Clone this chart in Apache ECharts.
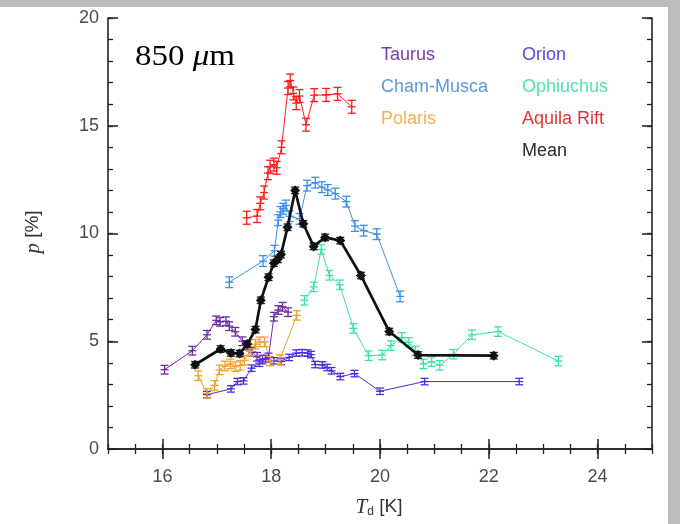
<!DOCTYPE html>
<html><head><meta charset="utf-8">
<script src="https://cdn.jsdelivr.net/npm/echarts@6/dist/echarts.min.js"></script>
<style>html,body{margin:0;padding:0;background:#fff}#c{width:680px;height:524px}</style>
</head><body><div id="c"></div>
<script>
// ---- data ----
const xTickLabels = [16, 18, 20, 22, 24];
const yTickLabels = [0, 5, 10, 15, 20];

const taurusX = [16.04, 16.55, 16.82, 16.99, 17.06, 17.17, 17.23, 17.34, 17.47, 17.55, 17.65, 17.74, 17.84, 17.95, 18.05, 18.13, 18.21, 18.31];
const taurusY = [3.68, 4.56, 5.30, 5.97, 5.90, 5.93, 5.70, 5.44, 5.00, 4.80, 4.50, 4.28, 4.15, 4.25, 6.14, 6.45, 6.60, 6.35];

const orionX = [16.82, 17.26, 17.38, 17.49, 17.64, 17.78, 17.90, 18.05, 18.18, 18.33, 18.46, 18.57, 18.67, 18.73, 18.81, 18.94, 19.03, 19.11, 19.27, 19.53, 20.00, 20.82, 22.56];
const orionY = [2.52, 2.79, 3.13, 3.16, 3.75, 3.98, 4.19, 4.09, 4.06, 4.25, 4.45, 4.47, 4.45, 4.38, 3.92, 3.90, 3.78, 3.63, 3.36, 3.50, 2.68, 3.13, 3.13];

const polarisX = [16.66, 16.82, 16.96, 17.05, 17.15, 17.25, 17.34, 17.43, 17.51, 17.61, 17.71, 17.79, 17.88, 17.98, 18.16, 18.47];
const polarisY = [3.40, 2.58, 2.95, 3.67, 3.85, 3.95, 3.82, 3.88, 4.12, 4.53, 4.86, 4.97, 4.97, 4.08, 4.15, 6.20];

const chamX = [17.23, 17.85, 18.06, 18.13, 18.17, 18.22, 18.27, 18.34, 18.52, 18.66, 18.81, 18.93, 19.04, 19.18, 19.38, 19.54, 19.70, 19.94, 20.37];
const chamY = [7.74, 8.72, 9.20, 10.62, 11.00, 11.15, 11.30, 10.80, 10.68, 12.22, 12.36, 12.15, 12.02, 11.85, 11.48, 10.35, 10.13, 9.97, 7.08];

const ophX = [18.61, 18.78, 18.92, 19.07, 19.26, 19.51, 19.79, 20.04, 20.20, 20.40, 20.53, 20.65, 20.80, 20.95, 21.10, 21.35, 21.69, 22.17, 23.28];
const ophY = [6.90, 7.52, 9.26, 8.06, 7.62, 5.60, 4.33, 4.36, 4.80, 5.18, 4.95, 4.55, 3.95, 4.05, 3.88, 4.40, 5.30, 5.45, 4.08];

const aquilaX = [17.55, 17.74, 17.80, 17.87, 17.94, 17.98, 18.05, 18.10, 18.19, 18.31, 18.35, 18.41, 18.46, 18.52, 18.64, 18.79, 19.01, 19.22, 19.48];
const aquilaY = [10.73, 10.81, 11.40, 11.90, 12.80, 13.10, 13.20, 13.05, 14.00, 16.75, 17.10, 16.50, 16.05, 16.38, 15.05, 16.42, 16.43, 16.48, 15.88];

const meanX = [16.60, 17.07, 17.26, 17.42, 17.56, 17.71, 17.81, 17.95, 18.05, 18.12, 18.18, 18.30, 18.44, 18.59, 18.78, 18.99, 19.27, 19.65, 20.17, 20.70, 22.09];
const meanY = [3.91, 4.64, 4.46, 4.43, 4.87, 5.54, 6.90, 7.97, 8.62, 8.80, 9.02, 10.29, 12.00, 10.45, 9.40, 9.82, 9.67, 8.05, 5.45, 4.36, 4.33];

// per-series 1-sigma half-height of the error bars
const taurusErr = 0.2, orionErr = 0.15, polarisErr = 0.22, chamErr = 0.25, ophErr = 0.22, aquilaErr = 0.3, meanErr = 0.15;

const seriesNames = ['Taurus', 'Orion', 'Cham-Musca', 'Ophiuchus', 'Polaris', 'Aquila Rift', 'Mean'];

// ---- build ----
const groups = [
  {name: 'Taurus', x: taurusX, y: taurusY, e: taurusErr, color: '#6e2aa0', text: '#7a3aa8'},
  {name: 'Orion', x: orionX, y: orionY, e: orionErr, color: '#4630dc', text: '#5a48dc'},
  {name: 'Cham-Musca', x: chamX, y: chamY, e: chamErr, color: '#3a8ee6', text: '#5a98e0'},
  {name: 'Ophiuchus', x: ophX, y: ophY, e: ophErr, color: '#38e4a0', text: '#50e4a8'},
  {name: 'Polaris', x: polarisX, y: polarisY, e: polarisErr, color: '#f2a024', text: '#f2b050'},
  {name: 'Aquila Rift', x: aquilaX, y: aquilaY, e: aquilaErr, color: '#ff1c1c', text: '#e83038'},
  {name: 'Mean', x: meanX, y: meanY, e: meanErr, color: '#111111', text: '#2a2a2a'}
];

function errRender(params, api) {
  const x = api.value(0), y = api.value(1), e = api.value(2);
  const hi = api.coord([x, y + e]), lo = api.coord([x, y - e]), c = api.coord([x, y]);
  const w = 4;
  const style = {stroke: api.visual('color'), lineWidth: 1.3};
  return {type: 'group', children: [
    {type: 'line', shape: {x1: hi[0], y1: hi[1], x2: lo[0], y2: lo[1]}, style: style},
    {type: 'line', shape: {x1: hi[0] - w, y1: hi[1], x2: hi[0] + w, y2: hi[1]}, style: style},
    {type: 'line', shape: {x1: lo[0] - w, y1: lo[1], x2: lo[0] + w, y2: lo[1]}, style: style},
    {type: 'line', shape: {x1: c[0] - w, y1: c[1], x2: c[0] + w, y2: c[1]}, style: style}
  ]};
}

const series = [];
groups.forEach(g => {
  const isMean = g.name === 'Mean';
  const pts = g.x.map((v, i) => [v, g.y[i]]);
  series.push({
    type: 'line', name: g.name, data: pts, xAxisIndex: 0, yAxisIndex: 0,
    showSymbol: isMean, symbol: 'diamond', symbolSize: 10,
    itemStyle: {color: g.color},
    lineStyle: {color: g.color, width: isMean ? 2.7 : 1},
    animation: false, silent: true, z: isMean ? 5 : 3
  });
  series.push({
    type: 'custom', name: g.name + ' err', xAxisIndex: 0, yAxisIndex: 0,
    data: g.x.map((v, i) => [v, g.y[i], g.e]),
    encode: {x: 0, y: 1},
    itemStyle: {color: g.color},
    renderItem: errRender, animation: false, silent: true, z: isMean ? 6 : 4
  });
});

const frame = {show: true, lineStyle: {color: '#222', width: 1.6}};
const lblFont = {color: '#4a4a4a', fontSize: 18, fontFamily: 'Liberation Sans, Arial, sans-serif'};

const xAxes = [
  {type: 'value', position: 'bottom', min: 15, max: 25, axisLine: frame, splitLine: {show: false},
   axisTick: {show: true, inside: true, length: 10, customValues: xTickLabels, lineStyle: {color: '#222', width: 1.5}},
   axisLabel: Object.assign({customValues: xTickLabels, margin: 19}, lblFont)},
  {type: 'value', position: 'bottom', min: 15, max: 25, interval: 0.5, axisLine: {show: false}, splitLine: {show: false},
   axisTick: {show: true, inside: true, length: 5, lineStyle: {color: '#222', width: 1.3}}, axisLabel: {show: false}},
  {type: 'value', position: 'top', min: 15, max: 25, axisLine: frame, splitLine: {show: false},
   axisTick: {show: true, inside: true, length: 10, customValues: xTickLabels, lineStyle: {color: '#222', width: 1.5}},
   axisLabel: {show: false}},
  {type: 'value', position: 'top', min: 15, max: 25, interval: 0.5, axisLine: {show: false}, splitLine: {show: false},
   axisTick: {show: true, inside: true, length: 5, lineStyle: {color: '#222', width: 1.3}}, axisLabel: {show: false}}
];
const yAxes = [
  {type: 'value', position: 'left', min: 0, max: 20, interval: 5, axisLine: frame, splitLine: {show: false},
   axisTick: {show: true, inside: true, length: 10, lineStyle: {color: '#222', width: 1.5}},
   axisLabel: Object.assign({margin: 9, formatter: v => yTickLabels.indexOf(v) >= 0 ? String(v) : ''}, lblFont)},
  {type: 'value', position: 'left', min: 0, max: 20, interval: 1, axisLine: {show: false}, splitLine: {show: false},
   axisTick: {show: true, inside: true, length: 5, lineStyle: {color: '#222', width: 1.3}}, axisLabel: {show: false}},
  {type: 'value', position: 'right', min: 0, max: 20, interval: 5, axisLine: frame, splitLine: {show: false},
   axisTick: {show: true, inside: true, length: 10, lineStyle: {color: '#222', width: 1.5}}, axisLabel: {show: false}},
  {type: 'value', position: 'right', min: 0, max: 20, interval: 1, axisLine: {show: false}, splitLine: {show: false},
   axisTick: {show: true, inside: true, length: 5, lineStyle: {color: '#222', width: 1.3}}, axisLabel: {show: false}}
];

const legendPos = {
  'Taurus': [381, 55], 'Cham-Musca': [381, 87], 'Polaris': [381, 119],
  'Orion': [522, 55], 'Ophiuchus': [522, 87], 'Aquila Rift': [522, 119], 'Mean': [522, 151]
};
const graphics = [
  {type: 'rect', shape: {x: 0, y: 0, width: 680, height: 7}, style: {fill: '#bdbdbd'}, silent: true, z: -10},
  {type: 'rect', shape: {x: 668, y: 0, width: 12, height: 524}, style: {fill: '#bdbdbd'}, silent: true, z: -10},
  {type: 'text', x: 135, y: 57, scaleX: 1.1, style: {
    text: '{n|850 }{u|\u03bc}{n|m}', verticalAlign: 'middle',
    rich: {n: {fontFamily: 'Liberation Serif, Times New Roman, serif', fontSize: 30, fill: '#000'},
           u: {fontFamily: 'Liberation Serif, Times New Roman, serif', fontSize: 30, fontStyle: 'italic', fill: '#000'}}
  }, z: 10},
  {type: 'text', x: 379, y: 507, style: {
    text: '{i|T}{s|d}{n| [K]}', align: 'center', verticalAlign: 'middle',
    rich: {i: {fontFamily: 'Liberation Serif, serif', fontStyle: 'italic', fontSize: 21, fill: '#333'},
           s: {fontFamily: 'Liberation Sans, sans-serif', fontSize: 12, fill: '#333', verticalAlign: 'bottom', padding: [10, 0, 0, 0]},
           n: {fontFamily: 'Liberation Sans, sans-serif', fontSize: 19, fill: '#333'}}
  }, z: 10},
  {type: 'text', x: 33, y: 232, rotation: Math.PI / 2, style: {
    text: '{i|p}{n| [%]}', align: 'center', verticalAlign: 'middle',
    rich: {i: {fontFamily: 'Liberation Serif, serif', fontStyle: 'italic', fontSize: 21, fill: '#333'},
           n: {fontFamily: 'Liberation Sans, sans-serif', fontSize: 19, fill: '#333'}}
  }, z: 10}
];
groups.forEach(g => {
  const p = legendPos[g.name];
  graphics.push({type: 'text', x: p[0], y: p[1], style: {
    text: g.name, fill: g.text, fontSize: 18, fontFamily: 'Liberation Sans, Arial, sans-serif', verticalAlign: 'middle'
  }, z: 10});
});

const chart = echarts.init(document.getElementById('c'), null, {renderer: 'canvas'});
chart.setOption({
  backgroundColor: '#fff',
  animation: false,
  grid: {left: 108, right: 28, top: 18, bottom: 75, containLabel: false},
  xAxis: xAxes,
  yAxis: yAxes,
  series: series,
  graphic: graphics
});
</script>
</body></html>
